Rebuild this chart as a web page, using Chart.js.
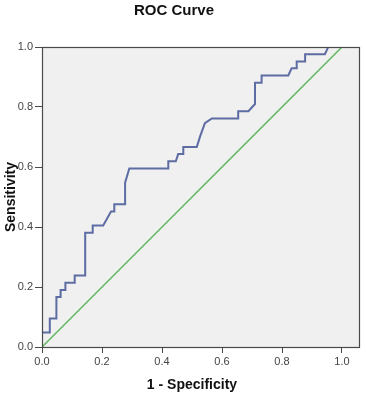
<!DOCTYPE html>
<html>
<head>
<meta charset="utf-8">
<title>ROC Curve</title>
<script src="https://cdn.jsdelivr.net/npm/chart.js@4"></script>
<style>
    html, body { margin: 0; padding: 0; background: #ffffff; }
    #roc { display: block; }
</style>
</head>
<body>
<canvas id="roc" width="366" height="395"></canvas>
<script>
// ROC curve (1 - specificity, sensitivity)
const fprValues = [0, 0, 0.026, 0.026, 0.048, 0.048, 0.062, 0.062, 0.078, 0.078, 0.109, 0.109,
    0.144, 0.144, 0.169, 0.169, 0.204, 0.230, 0.241, 0.241, 0.277, 0.277, 0.291, 0.421, 0.421,
    0.446, 0.454, 0.471, 0.471, 0.516, 0.527, 0.543, 0.566, 0.654, 0.654, 0.688, 0.710, 0.710,
    0.732, 0.732, 0.821, 0.832, 0.849, 0.849, 0.877, 0.877, 0.943, 0.954, 1.0];
const tprValues = [0, 0.048, 0.048, 0.095, 0.095, 0.167, 0.167, 0.190, 0.190, 0.214, 0.214, 0.238,
    0.238, 0.381, 0.381, 0.405, 0.405, 0.452, 0.452, 0.476, 0.476, 0.548, 0.595, 0.595, 0.619,
    0.619, 0.643, 0.643, 0.667, 0.667, 0.702, 0.746, 0.762, 0.762, 0.786, 0.786, 0.810, 0.881,
    0.881, 0.905, 0.905, 0.929, 0.929, 0.952, 0.952, 0.976, 0.976, 1.0, 1.0];

// reference line
const refX = [0, 1];
const refY = [0, 1];

const xTicks = [0, 0.2, 0.4, 0.6, 0.8, 1.0];
const yTicks = [0, 0.2, 0.4, 0.6, 0.8, 1.0];

const chartTitle = 'ROC Curve';
const xTitle = '1 - Specificity';
const yTitle = 'Sensitivity';

const toPoints = (xs, ys) => xs.map((x, i) => ({ x: x, y: ys[i] }));

// grey plot background, frame and the three titles
const framePlugin = {
    id: 'spssFrame',
    beforeDatasetsDraw(chart) {
        const { ctx, chartArea: a } = chart;
        ctx.save();
        ctx.fillStyle = '#f0f0f0';
        ctx.fillRect(a.left, a.top, a.right - a.left, a.bottom - a.top);
        ctx.restore();
    },
    afterDraw(chart) {
        const { ctx, chartArea: a, scales } = chart;
        ctx.save();
        ctx.strokeStyle = '#4a4a4a';
        ctx.lineWidth = 1.2;
        ctx.strokeRect(a.left + 0.5, a.top + 0.5, a.right - a.left - 1, a.bottom - a.top);

        ctx.fillStyle = '#111111';
        ctx.textAlign = 'center';
        ctx.textBaseline = 'alphabetic';
        ctx.font = 'bold 15px "Liberation Sans", Arial, sans-serif';
        ctx.fillText(chartTitle, 174, 15);

        ctx.font = 'bold 14px "Liberation Sans", Arial, sans-serif';
        ctx.fillText(xTitle, scales.x.getPixelForValue(0.5), 389);

        ctx.translate(15, scales.y.getPixelForValue(0.5));
        ctx.rotate(-Math.PI / 2);
        ctx.fillText(yTitle, 0, 0);
        ctx.restore();
    }
};

new Chart(document.getElementById('roc'), {
    type: 'scatter',
    data: {
        datasets: [
            {
                label: 'ROC',
                data: toPoints(fprValues, tprValues),
                showLine: true,
                borderColor: '#5d6ca3',
                borderWidth: 2,
                pointRadius: 0,
                tension: 0
            },
            {
                label: 'Reference',
                data: toPoints(refX, refY),
                showLine: true,
                borderColor: '#5fb85f',
                borderWidth: 1.5,
                pointRadius: 0
            }
        ]
    },
    options: {
        responsive: false,
        animation: false,
        devicePixelRatio: 1,
        layout: { padding: { top: 47, right: 6, left: 0, bottom: 0 } },
        plugins: {
            legend: { display: false },
            tooltip: { enabled: false }
        },
        scales: {
            x: {
                type: 'linear',
                min: 0,
                max: 1.06,
                afterBuildTicks: (scale) => { scale.ticks = xTicks.map(v => ({ value: v })); },
                afterFit: (scale) => { scale.height = 48; },
                border: { display: false },
                grid: { drawOnChartArea: false, drawTicks: true, tickLength: 6, color: '#4a4a4a' },
                ticks: {
                    padding: 2,
                    color: '#444444',
                    font: { family: '"Liberation Sans", Arial, sans-serif', size: 11 },
                    maxRotation: 0,
                    callback: (v) => Number(v).toFixed(1)
                }
            },
            y: {
                type: 'linear',
                min: 0,
                max: 1,
                afterBuildTicks: (scale) => { scale.ticks = yTicks.map(v => ({ value: v })); },
                afterFit: (scale) => { scale.width = 42; },
                border: { display: false },
                grid: { drawOnChartArea: false, drawTicks: true, tickLength: 7, color: '#4a4a4a' },
                ticks: {
                    padding: 2,
                    color: '#444444',
                    font: { family: '"Liberation Sans", Arial, sans-serif', size: 11 },
                    callback: (v) => Number(v).toFixed(1)
                }
            }
        }
    },
    plugins: [framePlugin]
});
</script>
</body>
</html>
